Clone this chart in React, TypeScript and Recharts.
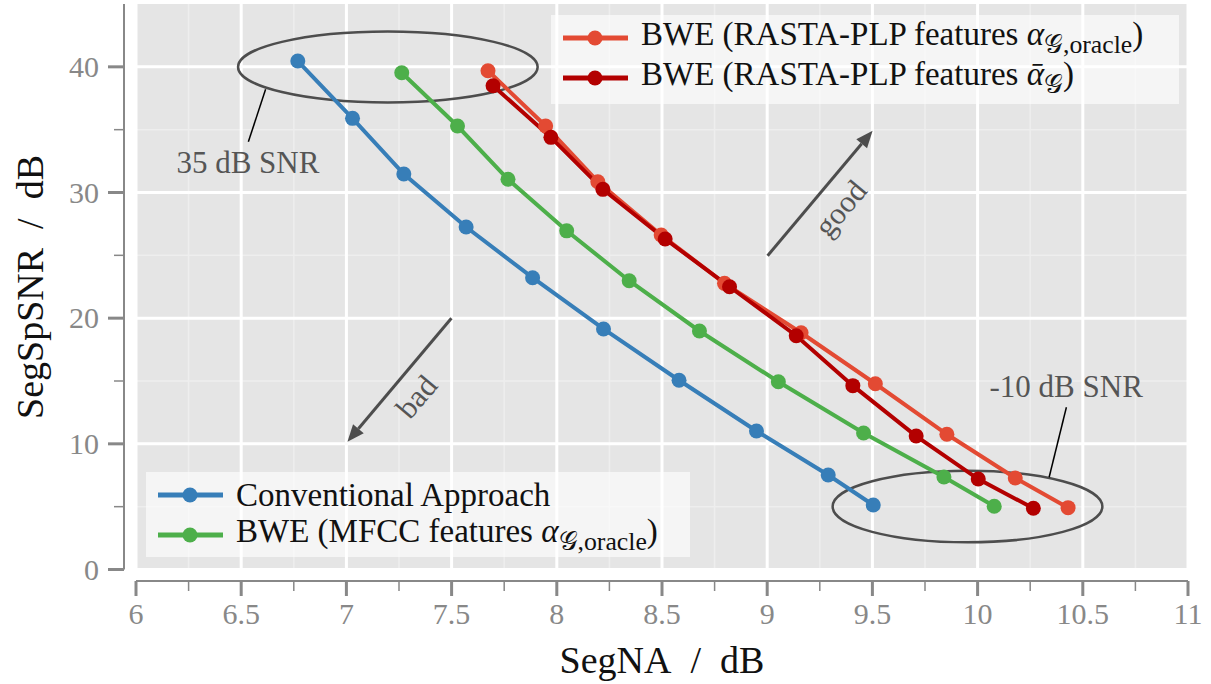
import React from "react";
import {
  CartesianGrid,
  Line,
  LineChart,
  ReferenceArea,
  ReferenceDot,
  ReferenceLine,
  XAxis,
  YAxis
} from "recharts";

// SegNA (x) / SegSpSNR (y) per input SNR, 35 dB ... -10 dB
const conventionalX = [6.769, 7.029, 7.273, 7.569, 7.885, 8.222, 8.581, 8.949, 9.29, 9.504];
const conventionalY = [40.46, 35.9, 31.47, 27.25, 23.22, 19.14, 15.06, 11.02, 7.52, 5.13];
const mfccX = [7.263, 7.528, 7.768, 8.047, 8.344, 8.678, 9.053, 9.458, 9.84, 10.079];
const mfccY = [39.53, 35.29, 31.05, 26.95, 22.98, 18.98, 14.94, 10.86, 7.36, 5.03];
const rastaOracleX = [7.673, 7.947, 8.195, 8.496, 8.797, 9.161, 9.514, 9.854, 10.179, 10.43];
const rastaOracleY = [39.69, 35.29, 30.86, 26.62, 22.77, 18.84, 14.78, 10.76, 7.28, 4.92];
const rastaEstX = [7.697, 7.972, 8.219, 8.515, 8.821, 9.138, 9.407, 9.708, 10.003, 10.265];
const rastaEstY = [38.5, 34.39, 30.25, 26.3, 22.5, 18.6, 14.63, 10.62, 7.2, 4.87];

const xTicks = [6, 6.25, 6.5, 6.75, 7, 7.25, 7.5, 7.75, 8, 8.25, 8.5, 8.75, 9, 9.25, 9.5, 9.75, 10, 10.25, 10.5, 10.75, 11];
const xMajor = [6, 6.5, 7, 7.5, 8, 8.5, 9, 9.5, 10, 10.5, 11];
const xMinor = [6.25, 6.75, 7.25, 7.75, 8.25, 8.75, 9.25, 9.75, 10.25, 10.75];
const yTicks = [0, 5, 10, 15, 20, 25, 30, 35, 40];
const yMajor = [0, 10, 20, 30, 40];
const yMinor = [5, 15, 25, 35];

const FONT = "'Liberation Serif', 'DejaVu Serif', serif";
const AXIS_GREY = "#888888";

const toPoints = (xs: number[], ys: number[]) => xs.map((x, i) => ({ x, y: ys[i] }));

const series = [
  { key: "conv", color: "#377eb8", data: toPoints(conventionalX, conventionalY) },
  { key: "mfcc", color: "#4daf4a", data: toPoints(mfccX, mfccY) },
  { key: "rastaOracle", color: "#e34a33", data: toPoints(rastaOracleX, rastaOracleY) },
  { key: "rastaEst", color: "#b30000", data: toPoints(rastaEstX, rastaEstY) }
];

const XTick = (props: any) => {
  const { x, payload } = props;
  const major = xMajor.includes(payload.value);
  return (
    <g>
      <line x1={x} x2={x} y1={581} y2={major ? 596 : 591} stroke={AXIS_GREY} strokeWidth={major ? 3 : 1.5} />
      {major && (
        <text x={x} y={624} textAnchor="middle" fontSize={30} fontFamily={FONT} fill={AXIS_GREY}>
          {payload.value}
        </text>
      )}
    </g>
  );
};

const YTick = (props: any) => {
  const { y, payload } = props;
  const major = yMajor.includes(payload.value);
  return (
    <g>
      <line x1={major ? 108 : 114} x2={124} y1={y} y2={y} stroke={AXIS_GREY} strokeWidth={major ? 3 : 1.5} />
      {major && (
        <text x={99} y={y + 10} textAnchor="end" fontSize={30} fontFamily={FONT} fill={AXIS_GREY}>
          {payload.value}
        </text>
      )}
    </g>
  );
};

const Arrow = (props: any) => {
  const { x1, y1, x2, y2 } = props;
  const a = Math.atan2(y2 - y1, x2 - x1);
  const len = 17;
  const half = 7;
  const bx = x2 - len * Math.cos(a);
  const by = y2 - len * Math.sin(a);
  const px = -Math.sin(a) * half;
  const py = Math.cos(a) * half;
  return (
    <g>
      <line x1={x1} y1={y1} x2={bx} y2={by} stroke="#4d4d4d" strokeWidth={3} />
      <polygon points={`${x2},${y2} ${bx + px},${by + py} ${bx - px},${by - py}`} fill="#4d4d4d" />
    </g>
  );
};

const Ellipse = (props: any) => {
  const { x, y, width, height } = props;
  return (
    <ellipse
      cx={x + width / 2}
      cy={y + height / 2}
      rx={Math.abs(width) / 2}
      ry={Math.abs(height) / 2}
      fill="none"
      stroke="#4d4d4d"
      strokeWidth={2.5}
    />
  );
};

const note = (text: string, angle = 0) => (props: any) => {
  const { cx, cy } = props;
  return (
    <text
      x={cx}
      y={cy}
      textAnchor="middle"
      dominantBaseline="central"
      fontSize={31}
      fontFamily={FONT}
      fill="#555555"
      transform={angle ? `rotate(${angle} ${cx} ${cy})` : undefined}
    >
      {text}
    </text>
  );
};

const Sub = ({ children }: { children: React.ReactNode }) => (
  <span style={{ fontSize: "0.78em", verticalAlign: "-0.3em" }}>{children}</span>
);

const LegendRow = ({ color, children }: { color: string; children: React.ReactNode }) => (
  <div style={{ display: "flex", alignItems: "center", height: 40 }}>
    <svg width={80} height={20} style={{ flex: "none" }}>
      <line x1={12} x2={77} y1={10} y2={10} stroke={color} strokeWidth={5} />
      <circle cx={44} cy={10} r={7.5} fill={color} />
    </svg>
    <span style={{ marginLeft: 10, whiteSpace: "nowrap" }}>{children}</span>
  </div>
);

const legendBox: React.CSSProperties = {
  position: "absolute",
  background: "rgba(255,255,255,0.6)",
  fontFamily: FONT,
  fontSize: 33,
  color: "#111",
  padding: "3px 0",
  boxSizing: "border-box"
};

export default function App() {
  return (
    <div style={{ position: "absolute", left: 0, top: 0, width: 1211, height: 684, background: "#fff" }}>
      <LineChart width={1211} height={684} margin={{ top: 4, right: 23, bottom: 0, left: 0 }}>
        <CartesianGrid
          fill="#e5e5e5"
          stroke="#eeeeee"
          strokeWidth={1.5}
          verticalValues={xMinor}
          horizontalValues={yMinor}
        />
        <CartesianGrid
          stroke="#ffffff"
          strokeWidth={3}
          verticalValues={xMajor}
          horizontalValues={yMajor}
        />
        <XAxis
          type="number"
          dataKey="x"
          domain={[6, 11]}
          ticks={xTicks}
          interval={0}
          height={114.5}
          axisLine={false}
          tickLine={false}
          tickSize={0}
          tick={<XTick />}
          allowDataOverflow
        />
        <YAxis
          type="number"
          dataKey="y"
          domain={[0, 45]}
          ticks={yTicks}
          interval={0}
          width={136}
          axisLine={false}
          tickLine={false}
          tickSize={0}
          tick={<YTick />}
          allowDataOverflow
        />
        <ReferenceLine
          segment={[{ x: 5.943, y: 0 }, { x: 5.943, y: 45 }]}
          stroke={AXIS_GREY}
          strokeWidth={2}
          ifOverflow="visible"
        />
        <ReferenceLine
          segment={[{ x: 6, y: -0.915 }, { x: 11, y: -0.915 }]}
          stroke={AXIS_GREY}
          strokeWidth={2}
          ifOverflow="visible"
        />
        {series.map((s) => (
          <Line
            key={s.key}
            data={s.data}
            dataKey="y"
            type="linear"
            stroke={s.color}
            strokeWidth={4}
            dot={{ r: 7.5, fill: s.color, stroke: s.color, strokeWidth: 0 }}
            activeDot={false}
            isAnimationActive={false}
          />
        ))}
        <ReferenceArea x1={6.485} x2={7.909} y1={37.17} y2={42.81} shape={<Ellipse />} ifOverflow="visible" />
        <ReferenceArea x1={9.311} x2={10.593} y1={2.16} y2={7.86} shape={<Ellipse />} ifOverflow="visible" />
        <ReferenceLine segment={[{ x: 6.616, y: 38.21 }, { x: 6.534, y: 34.04 }]} stroke="#000" strokeWidth={1.5} />
        <ReferenceLine segment={[{ x: 10.422, y: 12.91 }, { x: 10.34, y: 7.34 }]} stroke="#000" strokeWidth={1.5} />
        <ReferenceLine segment={[{ x: 9.002, y: 24.97 }, { x: 9.501, y: 34.92 }]} shape={<Arrow />} />
        <ReferenceLine segment={[{ x: 7.499, y: 19.99 }, { x: 7.005, y: 10.17 }]} shape={<Arrow />} />
        <ReferenceDot x={6.532} y={32.35} shape={note("35 dB SNR")} />
        <ReferenceDot x={10.421} y={14.55} shape={note("-10 dB SNR")} />
        <ReferenceDot x={9.348} y={28.74} shape={note("good", -50)} />
        <ReferenceDot x={7.333} y={13.75} shape={note("bad", -50)} />
        <text x={30} y={287} transform="rotate(-90 30 287)" textAnchor="middle" dominantBaseline="central" fontSize={38} fontFamily={FONT} fill="#111">
          {"SegSpSNR\u2002/\u2002dB"}
        </text>
        <text x={662} y={660} textAnchor="middle" dominantBaseline="central" fontSize={38} fontFamily={FONT} fill="#111">
          {"SegNA\u2002/\u2002dB"}
        </text>
      </LineChart>

      <div style={{ ...legendBox, left: 551, top: 15, width: 628, height: 89 }}>
        <LegendRow color={series[2].color}>
          BWE (RASTA-PLP features <i>α</i>
          <Sub>𝒢,oracle</Sub>)
        </LegendRow>
        <LegendRow color={series[3].color}>
          BWE (RASTA-PLP features <i>ᾱ</i>
          <Sub>𝒢</Sub>)
        </LegendRow>
      </div>
      <div style={{ ...legendBox, left: 146, top: 472, width: 544, height: 85 }}>
        <LegendRow color={series[0].color}>Conventional Approach</LegendRow>
        <LegendRow color={series[1].color}>
          BWE (MFCC features <i>α</i>
          <Sub>𝒢,oracle</Sub>)
        </LegendRow>
      </div>
    </div>
  );
}
